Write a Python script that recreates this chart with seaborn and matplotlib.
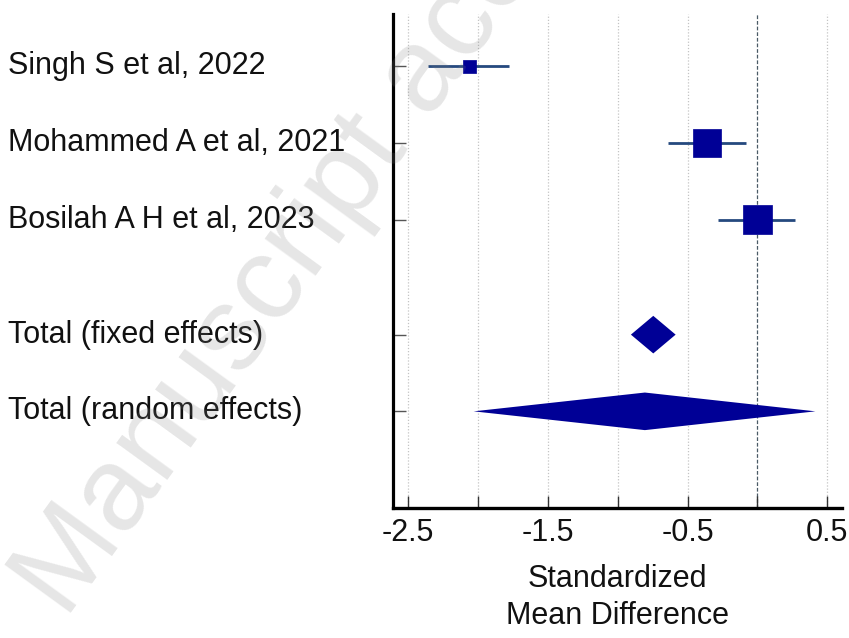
import matplotlib
matplotlib.use("Agg")
import matplotlib.pyplot as plt
import matplotlib.transforms as mtransforms
import numpy as np
import pandas as pd
import seaborn as sns

# Individual studies
studies = ["Singh S et al, 2022", "Mohammed A et al, 2021", "Bosilah A H et al, 2023"]
smd = [-2.06, -0.36, 0.00]
ci_low = [-2.36, -0.64, -0.28]
ci_high = [-1.78, -0.08, 0.27]
weight_pct = [8.9, 42.4, 48.7]

# Pooled estimates
pooled_labels = ["Total (fixed effects)", "Total (random effects)"]
pooled_smd = [-0.745, -0.805]
pooled_low = [-0.905, -2.03]
pooled_high = [-0.585, 0.415]

xtick_major = [-2.5, -1.5, -0.5, 0.5]
xtick_minor = [-2.0, -1.0, 0.0]

study_rows = [0, 1, 2]
pooled_rows = [3.5, 4.5]

sns.set_theme(style="white")
plt.rcParams["font.family"] = ["Liberation Sans", "DejaVu Sans"]

NAVY = "#000096"
CI_BLUE = "#25497e"
FS = 22

fig = plt.figure(figsize=(8.49, 6.38), dpi=100)
ax = fig.add_axes([0.4629, 0.2038, 0.5285, 0.7742])

# Vertical grid and the line of no effect
for xv in xtick_major + xtick_minor:
    if xv == 0.0:
        continue
    ax.axvline(xv, color="#c4c4c4", lw=0.9, ls=(0, (1, 1.5)), zorder=0)
ax.axvline(0.0, color="#4a5a66", lw=0.9, ls=(0, (3, 1.5)), zorder=0)

# Confidence intervals
ax.hlines(study_rows, ci_low, ci_high, color=CI_BLUE, lw=2.0, zorder=2)

# Study estimates, square area proportional to weight
df = pd.DataFrame({"smd": smd, "row": study_rows, "w": weight_pct})
sns.scatterplot(data=df, x="smd", y="row", size="w", sizes=(83, 455),
                size_norm=(min(weight_pct), max(weight_pct)),
                marker="s", color=NAVY, edgecolor=NAVY, linewidth=0.5,
                legend=False, ax=ax, zorder=3)

# Pooled diamonds
half_h = 0.245
for r, est, lo, hi in zip(pooled_rows, pooled_smd, pooled_low, pooled_high):
    ax.fill([lo, est, hi, est], [r, r - half_h, r, r + half_h],
            color=NAVY, lw=0, zorder=3)

ax.set_xlim(-2.607, 0.603)
ax.set_ylim(5.76, -0.68)

ax.set_xticks(xtick_major)
ax.set_xticks(xtick_minor, minor=True)
ax.set_xticklabels([f"{v:g}" for v in xtick_major], fontsize=FS,
                   color="#111111")
ax.tick_params(axis="x", which="both", direction="in", length=9, width=1.0,
               color="#333333", pad=7, bottom=True)
ax.set_yticks(study_rows + pooled_rows)
ax.set_yticklabels([])
ax.tick_params(axis="y", direction="in", length=9, width=1.0,
               color="#555555", left=True)

for s in ["top", "right"]:
    ax.spines[s].set_visible(False)
ax.spines["left"].set_linewidth(2.3)
ax.spines["bottom"].set_linewidth(2.4)
ax.spines["left"].set_color("black")
ax.spines["bottom"].set_color("black")

ax.set_xlabel("Standardized\nMean Difference", fontsize=FS, labelpad=12,
              linespacing=1.3, color="#111111")
ax.set_ylabel("")

# Row labels at the left edge of the figure
trans = mtransforms.blended_transform_factory(fig.transFigure, ax.transData)
for r, lab in zip(study_rows + pooled_rows, studies + pooled_labels):
    ax.text(8 / 849, r, lab, transform=trans, ha="left", va="center",
            fontsize=FS, color="#111111", clip_on=False)

# Watermark
fig.text(66 / 849, 1 - 620 / 638, "Manuscript accepted", fontsize=86,
         rotation=54, rotation_mode="anchor", ha="left", va="baseline",
         color="#808080", alpha=0.2, zorder=10)

fig.savefig("out.png", dpi=100)
